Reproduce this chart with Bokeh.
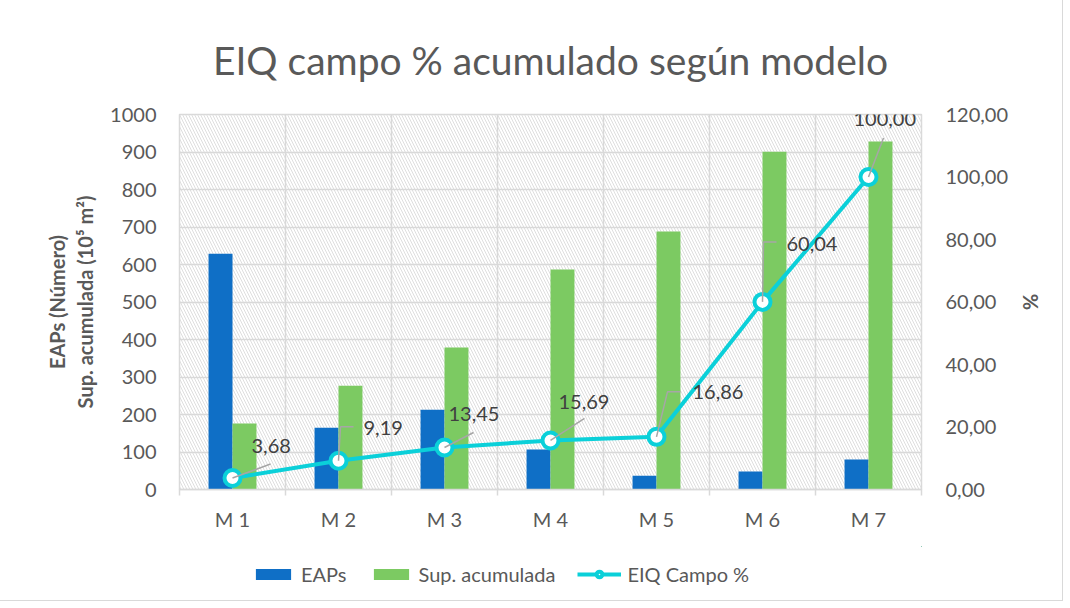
from bokeh.plotting import figure
from bokeh.layouts import column
from bokeh.models import (ColumnDataSource, Range1d, LinearAxis, FixedTicker,
                          Grid, BoxAnnotation, Legend, LegendItem)
from bokeh.core.properties import value
from bokeh.embed import file_html
from bokeh.resources import INLINE

# ---------------- data ----------------
categories = ["M 1", "M 2", "M 3", "M 4", "M 5", "M 6", "M 7"]
eaps = [629, 165, 213, 107, 37, 48, 80]
sup_acumulada = [176, 277, 379, 587, 688, 901, 928]
eiq_campo = [3.68, 9.19, 13.45, 15.69, 16.86, 60.04, 100.00]
eiq_labels = ["3,68", "9,19", "13,45", "15,69", "16,86", "60,04", "100,00"]
left_ticks = [0, 100, 200, 300, 400, 500, 600, 700, 800, 900, 1000]
right_ticks = [0, 20, 40, 60, 80, 100, 120]
right_tick_labels = ["0,00", "20,00", "40,00", "60,00", "80,00", "100,00", "120,00"]

# ---------------- style ----------------
W, H = 1062, 600
FL, FR, FT, FB = 179, 141, 114, 57
FRAME_W = W - FL - FR
FRAME_H = 375
P_H = FT + FRAME_H + FB
LEG_H = H - P_H
BLUE = "#0F6FC6"
GREEN = "#7CCA62"
CYAN = "#0BD0D9"
TXT = "#595959"
LBL = "#404040"
GRID = "#D9D9D9"
FONT = "Lato"
BAR_W = 0.226
# data-label placement in pixels relative to the marker (dx right, dy up)
label_dx = [19, 25, 4, 8, 36, 24, -15]
label_dy = [32, 33, 33, 38, 45, 58, 58]
leader_pts = [[(38, 14)], [(2, 34), (15, 34)], [(29, 15)], [(34, 22)],
              [(11, 45), (24, 45)], [(1, 60), (14, 60)], [(15, 39)]]

n = len(categories)
xc = [i + 0.5 for i in range(n)]
x_per_px = n / FRAME_W
pct_per_px = (right_ticks[-1] - right_ticks[0]) / FRAME_H

p = figure(frame_width=FRAME_W, frame_height=FRAME_H,
           x_range=Range1d(0, n), y_range=Range1d(0, left_ticks[-1]),
           output_backend="svg", toolbar_location=None,
           min_border_left=FL, min_border_right=FR, min_border_top=FT, min_border_bottom=FB)
p.extra_y_ranges = {"pct": Range1d(right_ticks[0], right_ticks[-1])}

# title
p.title.text = "EIQ campo % acumulado según modelo"
p.title.align = "center"
p.title.text_font = FONT
p.title.text_font_size = "39px"
p.title.text_font_style = "normal"
p.title.text_color = TXT
p.title.standoff = 64

# background hatch
p.add_layout(BoxAnnotation(fill_alpha=0, line_color=None, hatch_pattern="\\",
                           hatch_color="#DEDEDE", hatch_scale=6, hatch_weight=1,
                           level="image"))

# grids / outline
p.outline_line_color = GRID
p.outline_line_width = 1.5
p.xgrid.grid_line_color = None
p.ygrid.grid_line_color = GRID
p.ygrid.grid_line_width = 1.5
p.add_layout(Grid(dimension=0, ticker=FixedTicker(ticks=list(range(n + 1))),
                  grid_line_color=GRID, grid_line_width=1.5))

# x axis
xa = p.xaxis[0]
xa.ticker = FixedTicker(ticks=xc, minor_ticks=list(range(n + 1)))
xa.major_label_overrides = {x: c for x, c in zip(xc, categories)}
xa.axis_line_color = GRID
xa.axis_line_width = 1.5
xa.major_tick_line_color = None
xa.minor_tick_line_color = GRID
xa.minor_tick_line_width = 1.5
xa.minor_tick_in = 0
xa.minor_tick_out = 6
xa.major_label_standoff = 11
xa.major_label_text_font = FONT
xa.major_label_text_font_size = "20px"
xa.major_label_text_color = TXT

# left axis
ya = p.yaxis[0]
ya.ticker = FixedTicker(ticks=left_ticks)
ya.axis_line_color = None
ya.major_tick_line_color = None
ya.minor_tick_line_color = None
ya.major_label_standoff = 17
ya.major_label_text_font = FONT
ya.major_label_text_font_size = "20px"
ya.major_label_text_color = TXT
ya.axis_label = "EAPs (Número)\nSup. acumulada (10\u2075 m\u00b2)"
ya.axis_label_text_font = FONT
ya.axis_label_text_font_size = "20px"
ya.axis_label_text_font_style = "bold"
ya.axis_label_text_color = TXT
ya.axis_label_text_line_height = 1.15
ya.axis_label_standoff = 10

# right axis
ra = LinearAxis(y_range_name="pct", ticker=FixedTicker(ticks=right_ticks),
                major_label_overrides={t: s for t, s in zip(right_ticks, right_tick_labels)})
ra.axis_line_color = None
ra.major_tick_line_color = None
ra.minor_tick_line_color = None
ra.major_label_standoff = 18
ra.major_label_text_font = FONT
ra.major_label_text_font_size = "20px"
ra.major_label_text_color = TXT
ra.axis_label = "%"
ra.axis_label_text_font = FONT
ra.axis_label_text_font_size = "20px"
ra.axis_label_text_font_style = "bold"
ra.axis_label_text_color = TXT
ra.axis_label_standoff = 8
p.add_layout(ra, "right")

# bars
src = ColumnDataSource(dict(
    xb=[x - BAR_W / 2 for x in xc], xg=[x + BAR_W / 2 for x in xc], x=xc,
    eaps=eaps, sup=sup_acumulada, eiq=eiq_campo, lab=eiq_labels,
    dx=label_dx, dy=[-d for d in label_dy]))

bar_style_b = dict(width=BAR_W, fill_color=BLUE, line_color=None)
bar_style_g = dict(width=BAR_W, fill_color=GREEN, line_color=None)
line_style = dict(line_color=CYAN, line_width=4)
pt_style = dict(size=16, fill_color="white", line_color=CYAN, line_width=4)

p.vbar(x="xb", top="eaps", source=src, **bar_style_b)
p.vbar(x="xg", top="sup", source=src, **bar_style_g)
p.line(x="x", y="eiq", source=src, y_range_name="pct", **line_style)
p.scatter(x="x", y="eiq", source=src, y_range_name="pct", **pt_style)

# leader lines
lx, ly = [], []
for x, y, pts in zip(xc, eiq_campo, leader_pts):
    lx.append([x] + [x + dx * x_per_px for dx, dy in pts])
    ly.append([y] + [y + dy * pct_per_px for dx, dy in pts])
p.multi_line(xs=lx, ys=ly, y_range_name="pct", line_color="#A6A6A6", line_width=1.5)

# data labels
p.text(x="x", y="eiq", text="lab", source=src, y_range_name="pct",
       x_offset="dx", y_offset="dy", text_align="left", text_baseline="middle",
       text_font=value(FONT), text_font_size="20px", text_color=LBL)

# ---------------- legend strip under the chart ----------------
lf = figure(width=W, height=LEG_H, x_range=Range1d(-3, -2), y_range=Range1d(-3, -2),
            output_backend="svg", toolbar_location=None,
            x_axis_location=None, y_axis_location=None, min_border=0)
lf.outline_line_color = None
lf.background_fill_color = "white"
for g in lf.grid:
    g.visible = False
lb = lf.vbar(x="xb", top="eaps", source=src, **bar_style_b)
lg = lf.vbar(x="xg", top="sup", source=src, **bar_style_g)
ll = lf.line(x="x", y="eiq", source=src, **line_style)
lp = lf.scatter(x="x", y="eiq", source=src, **pt_style)
legend = Legend(items=[LegendItem(label="EAPs", renderers=[lb]),
                       LegendItem(label="Sup. acumulada", renderers=[lg]),
                       LegendItem(label="EIQ Campo %", renderers=[ll, lp])],
                orientation="horizontal", location=(72, 14),
                border_line_color=None, background_fill_alpha=0,
                glyph_width=44, glyph_height=14, label_standoff=6, spacing=22,
                label_text_font=FONT, label_text_font_size="20px", label_text_color=TXT,
                padding=0, margin=0)
lf.add_layout(legend)

page = column(p, lf, spacing=0, styles={"outline": "1px solid #D9D9D9"})
open("out.html", "w").write(file_html(page, INLINE))
